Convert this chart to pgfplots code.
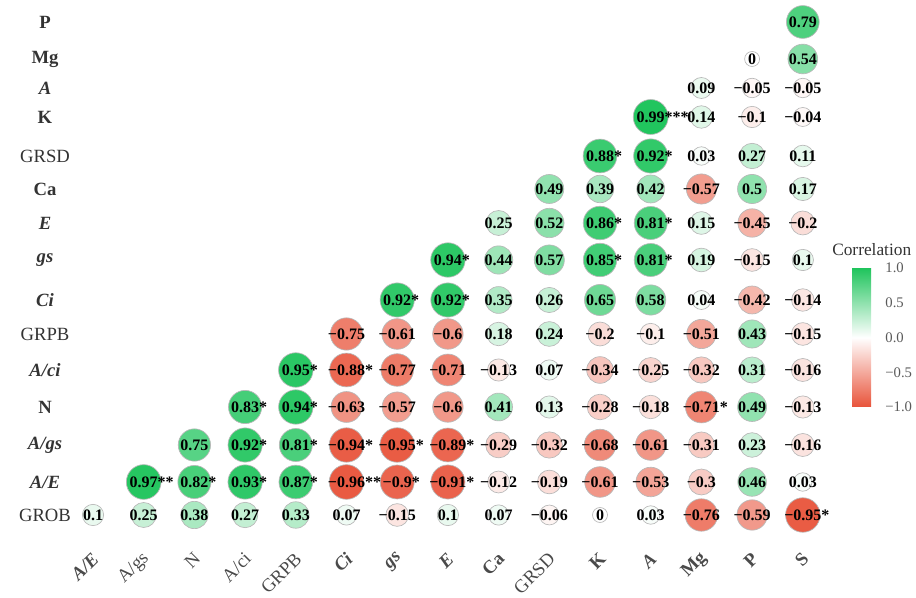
\documentclass[border=0pt]{standalone}
\usepackage{fontspec}
\setmainfont{Liberation Serif}
\usepackage{pgfplots}
\usepackage{pgfplotstable}
\pgfplotsset{compat=1.18}
\definecolor{lblgray}{HTML}{333333}
\definecolor{tickgray}{HTML}{4A4A4A}
\definecolor{cbgray}{HTML}{5A5A5A}
\protected\def\sa{\rlap{*}}
\protected\def\sb{\rlap{**}}
\protected\def\sc{\rlap{***}}

% x = column index, y = vertical position of the row, r = correlation
\pgfplotstableread{
x y r lbl
0 83 0.10 0.1
1 83 0.25 0.25
2 83 0.38 0.38
3 83 0.27 0.27
4 83 0.33 0.33
5 83 0.07 0.07
6 83 -0.15 −0.15
7 83 0.10 0.1
8 83 0.07 0.07
9 83 -0.06 −0.06
10 83 0 0
11 83 0.03 0.03
12 83 -0.76 −0.76
13 83 -0.59 −0.59
14 83 -0.95 {−0.95\sa}
1 116 0.97 {0.97\sb}
2 116 0.82 {0.82\sa}
3 116 0.93 {0.93\sa}
4 116 0.87 {0.87\sa}
5 116 -0.96 {−0.96\sb}
6 116 -0.90 {−0.9\sa}
7 116 -0.91 {−0.91\sa}
8 116 -0.12 −0.12
9 116 -0.19 −0.19
10 116 -0.61 −0.61
11 116 -0.53 −0.53
12 116 -0.30 −0.3
13 116 0.46 0.46
14 116 0.03 0.03
2 153 0.75 0.75
3 153 0.92 {0.92\sa}
4 153 0.81 {0.81\sa}
5 153 -0.94 {−0.94\sa}
6 153 -0.95 {−0.95\sa}
7 153 -0.89 {−0.89\sa}
8 153 -0.29 −0.29
9 153 -0.32 −0.32
10 153 -0.68 −0.68
11 153 -0.61 −0.61
12 153 -0.31 −0.31
13 153 0.23 0.23
14 153 -0.16 −0.16
3 191 0.83 {0.83\sa}
4 191 0.94 {0.94\sa}
5 191 -0.63 −0.63
6 191 -0.57 −0.57
7 191 -0.60 −0.6
8 191 0.41 0.41
9 191 0.13 0.13
10 191 -0.28 −0.28
11 191 -0.18 −0.18
12 191 -0.71 {−0.71\sa}
13 191 0.49 0.49
14 191 -0.13 −0.13
4 228 0.95 {0.95\sa}
5 228 -0.88 {−0.88\sa}
6 228 -0.77 −0.77
7 228 -0.71 −0.71
8 228 -0.13 −0.13
9 228 0.07 0.07
10 228 -0.34 −0.34
11 228 -0.25 −0.25
12 228 -0.32 −0.32
13 228 0.31 0.31
14 228 -0.16 −0.16
5 264 -0.75 −0.75
6 264 -0.61 −0.61
7 264 -0.60 −0.6
8 264 0.18 0.18
9 264 0.24 0.24
10 264 -0.20 −0.2
11 264 -0.10 −0.1
12 264 -0.51 −0.51
13 264 0.43 0.43
14 264 -0.15 −0.15
6 298 0.92 {0.92\sa}
7 298 0.92 {0.92\sa}
8 298 0.35 0.35
9 298 0.26 0.26
10 298 0.65 0.65
11 298 0.58 0.58
12 298 0.04 0.04
13 298 -0.42 −0.42
14 298 -0.14 −0.14
7 338 0.94 {0.94\sa}
8 338 0.44 0.44
9 338 0.57 0.57
10 338 0.85 {0.85\sa}
11 338 0.81 {0.81\sa}
12 338 0.19 0.19
13 338 -0.15 −0.15
14 338 0.10 0.1
8 375 0.25 0.25
9 375 0.52 0.52
10 375 0.86 {0.86\sa}
11 375 0.81 {0.81\sa}
12 375 0.15 0.15
13 375 -0.45 −0.45
14 375 -0.20 −0.2
9 409 0.49 0.49
10 409 0.39 0.39
11 409 0.42 0.42
12 409 -0.57 −0.57
13 409 0.50 0.5
14 409 0.17 0.17
10 442 0.88 {0.88\sa}
11 442 0.92 {0.92\sa}
12 442 0.03 0.03
13 442 0.27 0.27
14 442 0.11 0.11
11 481 0.99 {0.99\sc}
12 481 0.14 0.14
13 481 -0.10 −0.1
14 481 -0.04 −0.04
12 510 0.09 0.09
13 510 -0.05 −0.05
14 510 -0.05 −0.05
13 539 0 0
14 539 0.54 0.54
14 576 0.79 0.79
}\corr

\begin{document}
\begin{tikzpicture}
\begin{axis}[
  x=38.025pt, y=0.75pt,
  xmin=-1.8343, xmax=16.2327, ymin=0, ymax=598,
  axis line style={draw=none},
  major tick length=0pt,
  clip=false,
  xtick={0,...,14},
  xticklabels={\textbf{\textit{A/E}},A/gs,N,A/ci,GRPB,\textbf{\textit{Ci}},\textbf{\textit{gs}},\textbf{\textit{E}},\textbf{Ca},GRSD,\textbf{K},\textbf{\textit{A}},\textbf{Mg},\textbf{P},\textbf{S}},
  ytick={83,116,153,191,228,264,298,338,375,409,442,481,510,539,576},
  yticklabels={GROB,\textbf{\textit{A/E}},\textbf{\textit{A/gs}},\textbf{N},\textbf{\textit{A/ci}},GRPB,\textbf{\textit{Ci}},\textbf{\textit{gs}},\textbf{\textit{E}},\textbf{Ca},GRSD,\textbf{K},\textbf{\textit{A}},\textbf{Mg},\textbf{P}},
  yticklabel style={anchor=center, xshift=33.75pt, text=lblgray, font=\fontsize{14}{14}\selectfont},
  xticklabel style={font=\fontsize{14}{14}\selectfont, text=tickgray, xshift=4.5pt, yshift=34pt, rotate=45, anchor=east},
  colormap={rg}{rgb255(0cm)=(232,83,58); rgb255(1cm)=(255,255,255); rgb255(2cm)=(31,196,92)},
  point meta min=-1, point meta max=1,
  colorbar,
  colorbar style={
    at={(parent axis.north west)}, anchor=north west,
    xshift=630.5pt, yshift=-201pt,
    scale only axis,
    width=21.5pt, height=104.25pt,
    axis line style={draw=none},
    major tick length=0pt,
    ytick={-1,-0.5,0,0.5,1},
    yticklabels={−1.0,−0.5,0.0,0.5,1.0},
    yticklabel style={font=\fontsize{11}{11}\selectfont, text=cbgray},
    title={Correlation},
    title style={font=\fontsize{13}{13}\selectfont, text=lblgray, xshift=4pt},
  },
]
% circles: colour from r, radius from |r| (meta transformed 0..1000 <-> r -1..1)
\addplot[
  scatter, only marks, mark=*,
  point meta=explicit,
  scatter/use mapped color={draw=black!28, fill=mapped color},
  scatter/@pre marker code/.append code={%
    \pgfmathsetmacro\ms{5.625+7.5*sqrt(abs(\pgfplotspointmetatransformed/500-1))}%
    \pgfsetplotmarksize{\ms pt}\pgfsetlinewidth{0.5pt}},
] table[x=x, y=y, meta=r] {\corr};
% value labels
\addplot[
  draw=none, mark=none,
  point meta=explicit symbolic,
  nodes near coords={\pgfplotspointmeta},
  every node near coord/.style={anchor=center, inner sep=0pt, text=black, font=\bfseries\fontsize{12}{12}\selectfont},
] table[x=x, y=y, meta=lbl] {\corr};
\end{axis}
\pgfresetboundingbox
\useasboundingbox (current axis.south west) rectangle (current axis.north east);
\end{tikzpicture}
\end{document}
